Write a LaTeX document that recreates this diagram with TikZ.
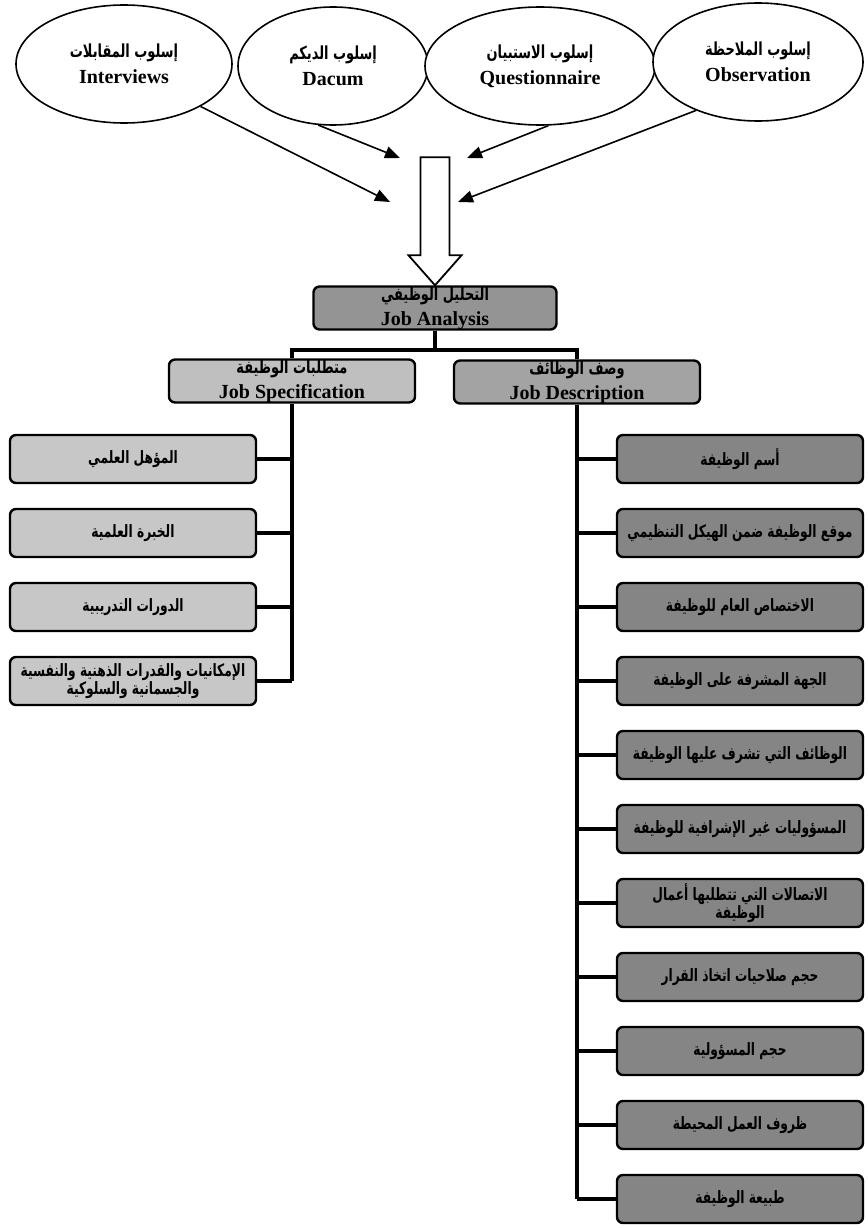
\documentclass[tikz,border=0pt]{standalone}
\usepackage{fontspec}
\setmainfont{Liberation Serif}
\newfontfamily\arabicfont[Script=Arabic, FakeStretch=0.72]{DejaVu Sans}
\TeXXeTstate=1
\usetikzlibrary{arrows.meta,
shapes.geometric,
positioning}

\newcommand{\artxt}[1]{{\arabicfont\beginR #1\endR}}
\newcommand{\arhead}[1]{{\fontsize{18}{18}\selectfont\arabicfont\beginR #1\endR}}

\begin{document}
\begin{tikzpicture} [x=1pt, y=-1pt,
    >={Triangle[length=15pt, width=12pt]},
    thick,
    node distance=74pt,
    method node/.style={ellipse, draw, line width=1.6pt, fill=white,
        align=center, minimum height=118pt, inner sep=0pt,
        font=\fontsize{20}{26}\selectfont\bfseries},
    main node/.style={rectangle, rounded corners=6pt, draw, line width=2.4pt,
        align=center, minimum width=246pt, minimum height=48pt, inner sep=1pt},
    head node/.style={main node, minimum height=40pt, inner sep=0pt,
        font=\fontsize{20}{22}\selectfont\bfseries},
    spec node/.style={main node, fill=black!22, on grid,
        font=\fontsize{17}{18}\selectfont\bfseries},
    desc node/.style={main node, fill=black!48, on grid,
        font=\fontsize{17}{18}\selectfont\bfseries},
    tree line/.style={-, line width=3.8pt},
    feed line/.style={->, line width=1.6pt}
  ]

  \useasboundingbox (0, 0) rectangle (867, 1228);

  %%%%%%%%%%%%%%%%%%%%%%%%%%%%%% methods

  \node [method node, minimum width=216pt] (interv) at (124, 64)
  {\arhead{إسلوب المقابلات}\\Interviews};

  \node [method node, minimum width=190pt] (dacum) at (333, 66)
  {\arhead{إسلوب الديكم}\\Dacum};

  \node [method node, minimum width=230pt] (quest) at (540, 66)
  {\arhead{إسلوب الاستبيان}\\Questionnaire};

  \node [method node, minimum width=210pt] (observ) at (758, 62)
  {\arhead{إسلوب الملاحظة}\\Observation};

  \coordinate (tipa) at (400, 158);
  \coordinate (tipb) at (390, 202);
  \coordinate (tipc) at (467, 158);
  \coordinate (tipd) at (458, 202);

  \draw [feed line] (interv.-29) -- (tipb);
  \draw [feed line] (dacum.-104) -- (tipa);
  \draw [feed line] (quest.-82) -- (tipc);
  \draw [feed line] (observ.-142) -- (tipd);

  %%%%%%%%%%%%%%%%%%%%%%%%%%%%%% job analysis

  \node [head node, fill=black!42, minimum width=243pt] (ana) at (435, 308)
  {\arhead{التحليل الوظيفي}\\[3pt]Job Analysis};

  \draw [line width=1.8pt, fill=white] (ana.north) -- ++(-26.5, -30)
  -- ++(12, 0) -- ++(0, -98) -- ++(29, 0) -- ++(0, 98) -- ++(12, 0) -- cycle;

  \node [head node, fill=black!25, minimum height=41pt] (spec) at (292, 381)
  {\arhead{متطلبات الوظيفة}\\[3pt]Job Specification};

  \node [head node, fill=black!36, minimum height=41pt] (desc) at (577, 382)
  {\arhead{وصف الوظائف}\\[3pt]Job Description};

  \draw [tree line] (ana.south) -- ++(0, 19) coordinate (split);
  \draw [tree line] (split) -| (spec.north);
  \draw [tree line] (split) -| (desc.north);

  %%%%%%%%%%%%%%%%%%%%%%%%%%%%%% job specification

  \node [spec node] (s1) at (133, 459) {\artxt{المؤهل العلمي}};
  \node [spec node, below = of s1] (s2) {\artxt{الخبرة العلمية}};
  \node [spec node, below = of s2] (s3) {\artxt{الدورات التدريبية}};
  \node [spec node, below = of s3] (s4)
  {\artxt{الإمكانيات والقدرات الذهنية والنفسية}\\\artxt{والجسمانية والسلوكية}};

  \draw [tree line] (spec.south) -- (spec.south |- s4.east);
  \draw [tree line] (s1.east) -- (s1.east -| spec.south);
  \draw [tree line] (s2.east) -- (s2.east -| spec.south);
  \draw [tree line] (s3.east) -- (s3.east -| spec.south);
  \draw [tree line] (s4.east) -- (s4.east -| spec.south);

  %%%%%%%%%%%%%%%%%%%%%%%%%%%%%% job description

  \node [desc node] (d1) at (740, 459) {\artxt{أسم الوظيفة}};
  \node [desc node, below = of d1] (d2)
  {\artxt{موقع الوظيفة ضمن الهيكل التنظيمي}};
  \node [desc node, below = of d2] (d3)
  {\artxt{الاختصاص العام للوظيفة}};
  \node [desc node, below = of d3] (d4)
  {\artxt{الجهة المشرفة على الوظيفة}};
  \node [desc node, below = of d4] (d5)
  {\artxt{الوظائف التي تشرف عليها الوظيفة}};
  \node [desc node, below = of d5] (d6)
  {\artxt{المسؤوليات غير الإشرافية للوظيفة}};
  \node [desc node, below = of d6] (d7)
  {\artxt{الاتصالات التي تتطلبها أعمال}\\\artxt{الوظيفة}};
  \node [desc node, below = of d7] (d8)
  {\artxt{حجم صلاحيات اتخاذ القرار}};
  \node [desc node, below = of d8] (d9) {\artxt{حجم المسؤولية}};
  \node [desc node, below = of d9] (d10)
  {\artxt{ظروف العمل المحيطة}};
  \node [desc node, below = of d10] (d11) {\artxt{طبيعة الوظيفة}};

  \draw [tree line] (desc.south) -- (desc.south |- d11.west);
  \draw [tree line] (desc.south |- d1.west) -- (d1.west);
  \draw [tree line] (desc.south |- d2.west) -- (d2.west);
  \draw [tree line] (desc.south |- d3.west) -- (d3.west);
  \draw [tree line] (desc.south |- d4.west) -- (d4.west);
  \draw [tree line] (desc.south |- d5.west) -- (d5.west);
  \draw [tree line] (desc.south |- d6.west) -- (d6.west);
  \draw [tree line] (desc.south |- d7.west) -- (d7.west);
  \draw [tree line] (desc.south |- d8.west) -- (d8.west);
  \draw [tree line] (desc.south |- d9.west) -- (d9.west);
  \draw [tree line] (desc.south |- d10.west) -- (d10.west);
  \draw [tree line] (desc.south |- d11.west) -- (d11.west);

\end{tikzpicture}
\end{document}
